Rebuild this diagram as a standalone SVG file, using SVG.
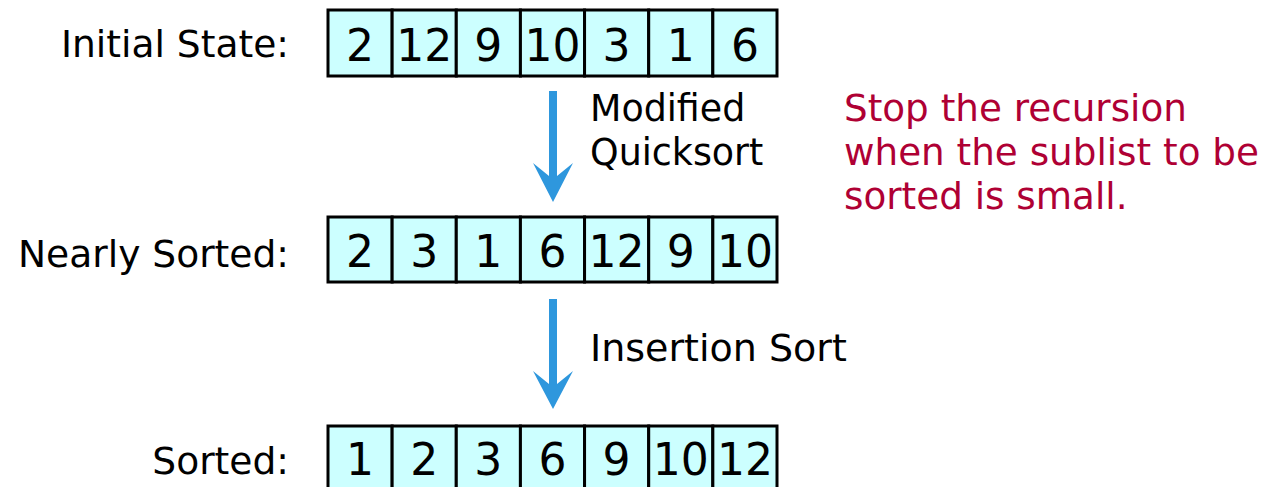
<svg xmlns="http://www.w3.org/2000/svg" width="1265" height="487" viewBox="0 0 1265 487">
<style>
.lbl{font-family:"DejaVu Sans",Verdana,sans-serif;font-size:37.6px;fill:#000}
.num{font-family:"DejaVu Sans",Verdana,sans-serif;font-size:44px;fill:#000;text-anchor:middle}
.cell{fill:#CCFFFF;stroke:#000;stroke-width:3}
.note{font-family:"DejaVu Sans",Verdana,sans-serif;font-size:37.3px;fill:#AF0034}
.arr{fill:#2E97DD}
</style>
<rect width="1265" height="487" fill="#fff"/>
<g id="label-initial"><text class="lbl" x="289" y="57" text-anchor="end">Initial State:</text></g>
<g id="label-nearly"><text class="lbl" x="289" y="267" text-anchor="end">Nearly Sorted:</text></g>
<g id="label-sorted"><text class="lbl" x="289" y="474" text-anchor="end">Sorted:</text></g>
<g id="array-initial">
<rect class="cell" x="328" y="10" width="64.14" height="66"/>
<rect class="cell" x="392.14" y="10" width="64.14" height="66"/>
<rect class="cell" x="456.28" y="10" width="64.14" height="66"/>
<rect class="cell" x="520.42" y="10" width="64.14" height="66"/>
<rect class="cell" x="584.56" y="10" width="64.14" height="66"/>
<rect class="cell" x="648.7" y="10" width="64.14" height="66"/>
<rect class="cell" x="712.84" y="10" width="64.16" height="66"/>
<text class="num" x="360.1" y="61">2</text>
<text class="num" x="424.2" y="61">12</text>
<text class="num" x="488.3" y="61">9</text>
<text class="num" x="552.5" y="61">10</text>
<text class="num" x="616.6" y="61">3</text>
<text class="num" x="680.8" y="61">1</text>
<text class="num" x="744.9" y="61">6</text>
</g>
<g id="array-nearly">
<rect class="cell" x="328" y="217" width="64.14" height="65"/>
<rect class="cell" x="392.14" y="217" width="64.14" height="65"/>
<rect class="cell" x="456.28" y="217" width="64.14" height="65"/>
<rect class="cell" x="520.42" y="217" width="64.14" height="65"/>
<rect class="cell" x="584.56" y="217" width="64.14" height="65"/>
<rect class="cell" x="648.7" y="217" width="64.14" height="65"/>
<rect class="cell" x="712.84" y="217" width="64.16" height="65"/>
<text class="num" x="360.1" y="267">2</text>
<text class="num" x="424.2" y="267">3</text>
<text class="num" x="488.3" y="267">1</text>
<text class="num" x="552.5" y="267">6</text>
<text class="num" x="616.6" y="267">12</text>
<text class="num" x="680.8" y="267">9</text>
<text class="num" x="744.9" y="267">10</text>
</g>
<g id="array-sorted">
<rect class="cell" x="328" y="426" width="64.14" height="66"/>
<rect class="cell" x="392.14" y="426" width="64.14" height="66"/>
<rect class="cell" x="456.28" y="426" width="64.14" height="66"/>
<rect class="cell" x="520.42" y="426" width="64.14" height="66"/>
<rect class="cell" x="584.56" y="426" width="64.14" height="66"/>
<rect class="cell" x="648.7" y="426" width="64.14" height="66"/>
<rect class="cell" x="712.84" y="426" width="64.16" height="66"/>
<text class="num" x="360.1" y="475">1</text>
<text class="num" x="424.2" y="475">2</text>
<text class="num" x="488.3" y="475">3</text>
<text class="num" x="552.5" y="475">6</text>
<text class="num" x="616.6" y="475">9</text>
<text class="num" x="680.8" y="475">10</text>
<text class="num" x="744.9" y="475">12</text>
</g>
<g id="connectors">
<path class="arr" d="M549 91 H557 V176 L573 163 L553 202 L533 163 L549 176 Z"/>
<path class="arr" d="M549 299 H557 V384 L573 371 L553 409 L533 371 L549 384 Z"/>
<text class="lbl" x="590" y="121" style="font-size:36.4px">Modified</text>
<text class="lbl" x="590" y="165" style="font-size:36.4px">Quicksort</text>
<text class="lbl" x="590" y="361" style="font-size:38px">Insertion Sort</text>
</g>
<g id="note">
<text class="note" x="844" y="121">Stop the recursion</text>
<text class="note" x="844" y="165">when the sublist to be</text>
<text class="note" x="844" y="209">sorted is small.</text>
</g>
</svg>
